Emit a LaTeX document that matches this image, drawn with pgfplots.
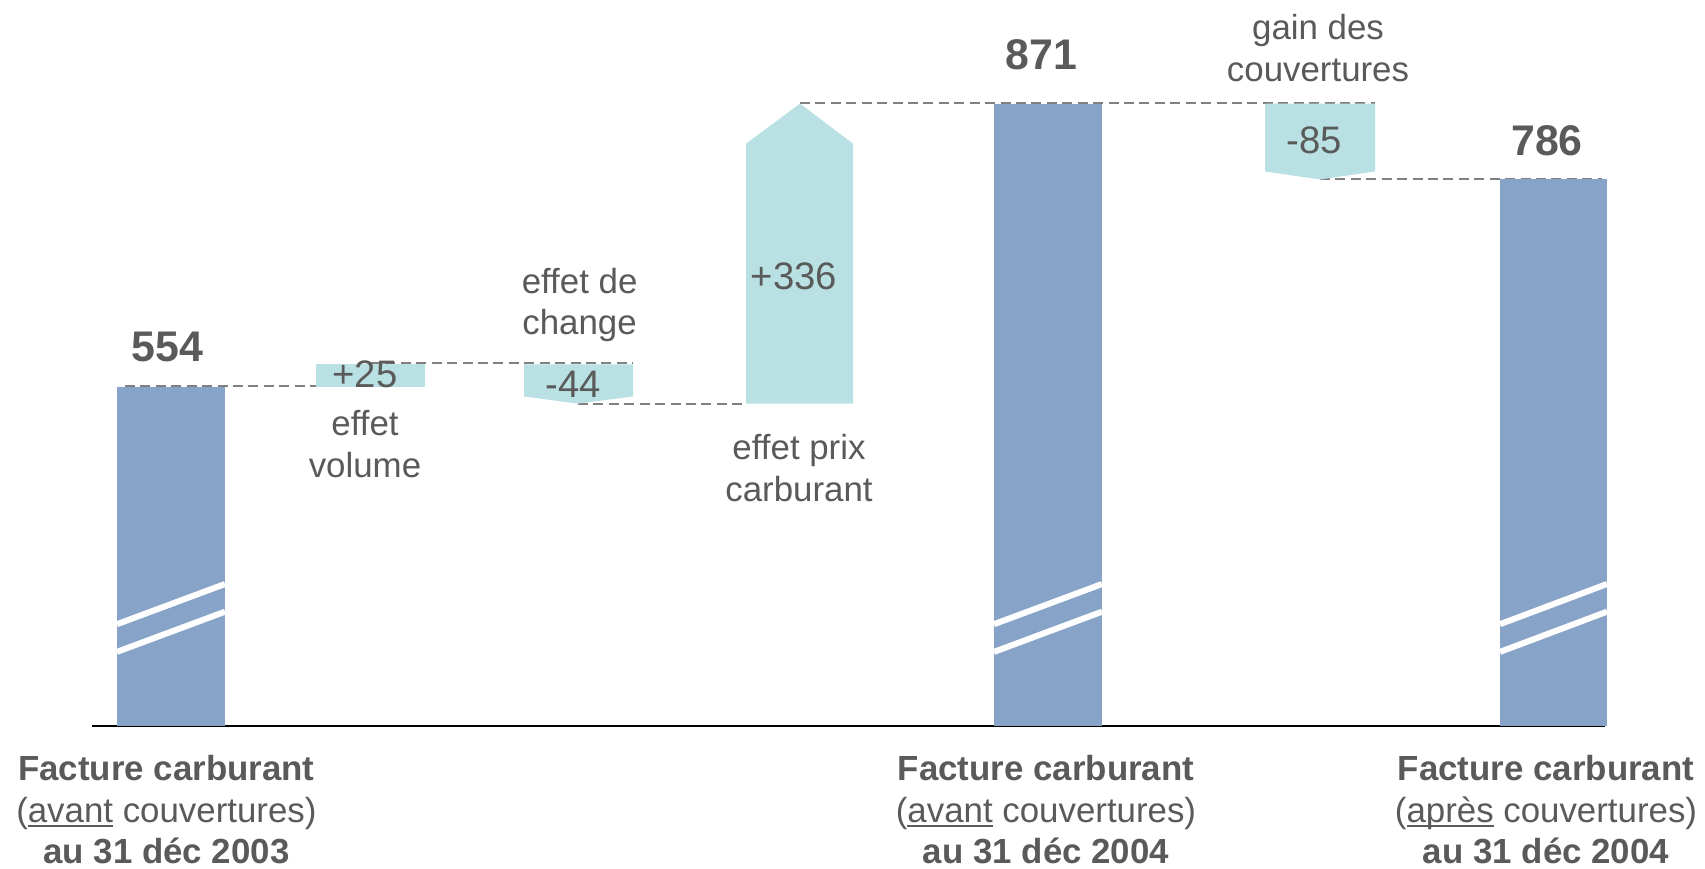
\documentclass[border=0pt]{standalone}
\usepackage{pgfplots}
\pgfplotsset{compat=1.18}
\usepackage{fontspec}
\setmainfont{Liberation Sans}
\definecolor{barblue}{HTML}{87A4C8}
\definecolor{barteal}{HTML}{B9E0E3}
\definecolor{txt}{HTML}{5A5A5A}
\definecolor{dashgray}{HTML}{808080}
\newcommand\lab{\fontsize{12.2}{14.6}\selectfont\color{txt}}
\newcommand\val{\fontsize{13.4}{16}\selectfont\color{txt}}
\newcommand\tot{\fontsize{15}{18}\selectfont\bfseries\color{txt}}
\newcommand\ul[1]{{\setbox0\hbox{#1}\rlap{\rule[-1.7pt]{\wd0}{0.55pt}}\box0}}
\begin{document}
\begin{tikzpicture}
\begin{axis}[x=35pt, y=0.31255pt, xmin=0, xmax=17.05, ymin=13.9, ymax=987,
  hide axis, clip=false]
% base line
\addplot[black, line width=0.8pt] coordinates {(0.92,174) (16.05,174)};
% dashed connectors
\addplot[dashgray, line width=0.7pt, dash pattern=on 3.5pt off 1.9pt] coordinates {(1.25,555) (3.17,555)};
\addplot[dashgray, line width=0.7pt, dash pattern=on 3.5pt off 1.9pt] coordinates {(3.70,580) (6.33,580)};
\addplot[dashgray, line width=0.7pt, dash pattern=on 3.5pt off 1.9pt] coordinates {(5.78,535) (7.46,535)};
\addplot[dashgray, line width=0.7pt, dash pattern=on 3.5pt off 1.9pt] coordinates {(8.00,872) (13.75,872)};
\addplot[dashgray, line width=0.7pt, dash pattern=on 3.5pt off 1.9pt] coordinates {(13.20,787) (16.02,787)};
% totals
\addplot[fill=barblue, draw=none] coordinates {(1.17,174) (2.25,174) (2.25,554) (1.17,554)} -- cycle;
\addplot[fill=barblue, draw=none] coordinates {(9.94,174) (11.02,174) (11.02,871) (9.94,871)} -- cycle;
\addplot[fill=barblue, draw=none] coordinates {(15.00,174) (16.07,174) (16.07,786) (15.00,786)} -- cycle;
% break marks
\addplot[white, line width=2.1pt] coordinates {(1.17,288) (2.25,333)};
\addplot[white, line width=2.1pt] coordinates {(1.17,257) (2.25,302)};
\addplot[white, line width=2.1pt] coordinates {(9.94,288) (11.02,333)};
\addplot[white, line width=2.1pt] coordinates {(9.94,257) (11.02,302)};
\addplot[white, line width=2.1pt] coordinates {(15.00,288) (16.07,333)};
\addplot[white, line width=2.1pt] coordinates {(15.00,257) (16.07,302)};
% variations: +25, -44, +336, -85
\addplot[fill=barteal, draw=none] coordinates {(3.16,554) (4.25,554) (4.25,579) (3.16,579)} -- cycle;
\addplot[fill=barteal, draw=none] coordinates {(5.24,579) (6.33,579) (6.33,543) (5.78,535) (5.24,543)} -- cycle;
\addplot[fill=barteal, draw=none] coordinates {(7.46,535) (8.53,535) (8.53,826) (8.00,871) (7.46,826)} -- cycle;
\addplot[fill=barteal, draw=none] coordinates {(12.65,871) (13.75,871) (13.75,795) (13.20,786) (12.65,795)} -- cycle;
% value labels
\node[inner sep=0pt, font=\tot] at (axis cs:1.675,598.4) {554};
\node[inner sep=0pt, font=\tot] at (axis cs:10.417,926) {871};
\node[inner sep=0pt, font=\tot] at (axis cs:15.47,829.3) {786};
\node[inner sep=0pt, font=\val] at (axis cs:3.65,568.2) {+25};
\node[inner sep=0pt, font=\val] at (axis cs:5.73,557) {-44};
\node[inner sep=0pt, font=\val] at (axis cs:7.94,677.8) {+336};
\node[inner sep=0pt, font=\val] at (axis cs:13.14,830.2) {-85};
% descriptive labels
\node[inner sep=0pt, font=\lab, align=center] at (axis cs:3.65,489.8) {effet\\volume};
\node[inner sep=0pt, font=\lab, align=center] at (axis cs:5.796,645.4) {effet de\\change};
\node[inner sep=0pt, font=\lab, align=center] at (axis cs:7.99,463) {effet prix\\carburant};
\node[inner sep=0pt, font=\lab, align=center] at (axis cs:13.18,933.5) {gain des\\couvertures};
% category labels
\node[inner sep=0pt, font=\lab, align=center] at (axis cs:1.664,80.4) {\textbf{Facture carburant}\\(\ul{avant} couvertures)\\\textbf{au 31 déc 2003}};
\node[inner sep=0pt, font=\lab, align=center] at (axis cs:10.46,80.4) {\textbf{Facture carburant}\\(\ul{avant} couvertures)\\\textbf{au 31 déc 2004}};
\node[inner sep=0pt, font=\lab, align=center] at (axis cs:15.46,80.4) {\textbf{Facture carburant}\\(\ul{après} couvertures)\\\textbf{au 31 déc 2004}};
\end{axis}
\pgfresetboundingbox
\path (current axis.south west) rectangle (current axis.north east);
\end{tikzpicture}
\end{document}
